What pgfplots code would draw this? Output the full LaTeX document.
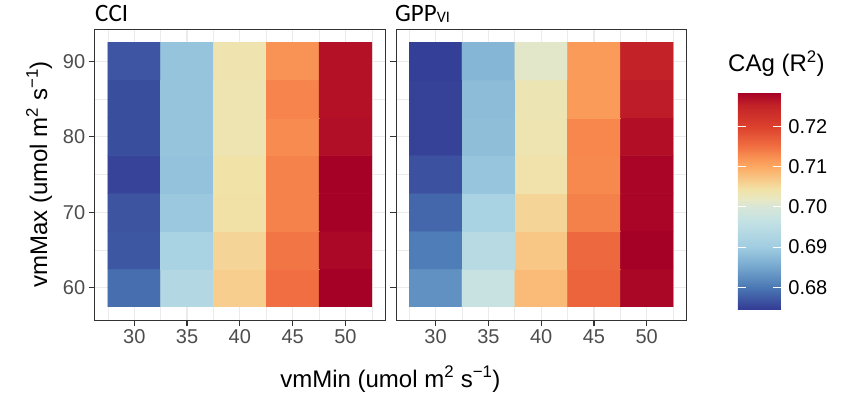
\documentclass[border=0pt]{standalone}
\usepackage{fontspec}
\setmainfont{Liberation Sans}
\newfontfamily\carlito{Carlito}
\usepackage{pgfplots}
\usepackage{pgfplotstable}
\pgfplotsset{compat=1.18}
\definecolor{grey92}{RGB}{235,235,235}
\definecolor{grey20}{RGB}{51,51,51}
\definecolor{grey30}{RGB}{77,77,77}
% colour scale; positions = (value-0.6743)*10000 pt
\pgfplotsset{colormap={refbar}{
rgb255(0pt)=(50,58,148)
rgb255(57pt)=(75,120,180)
rgb255(105pt)=(115,165,205)
rgb255(157pt)=(160,205,225)
rgb255(220pt)=(195,225,228)
rgb255(257pt)=(215,230,215)
rgb255(277pt)=(232,232,195)
rgb255(302pt)=(242,225,165)
rgb255(327pt)=(248,200,135)
rgb255(357pt)=(252,170,100)
rgb255(385pt)=(248,140,80)
rgb255(409pt)=(240,110,65)
rgb255(457pt)=(220,65,45)
rgb255(510pt)=(195,35,40)
rgb255(543pt)=(165,0,38)}}
\pgfplotstableread{
x y v
30 60 0.6792
35 60 0.6935
40 60 0.7064
45 60 0.7152
50 60 0.7286
30 65 0.6770
35 65 0.6916
40 65 0.7057
45 65 0.7146
50 65 0.7279
30 70 0.6767
35 70 0.6894
40 70 0.7044
45 70 0.7136
50 70 0.7286
30 75 0.6751
35 75 0.6886
40 75 0.7043
45 75 0.7136
50 75 0.7286
30 80 0.6761
35 80 0.6888
40 80 0.7035
45 80 0.7128
50 80 0.7273
30 85 0.6761
35 85 0.6888
40 85 0.7035
45 85 0.7134
50 85 0.7270
30 90 0.6768
35 90 0.6888
40 90 0.7037
45 90 0.7121
50 90 0.7270
}\cci
\pgfplotstableread{
x y v
30 60 0.6827
35 60 0.6972
40 60 0.7083
45 60 0.7163
50 60 0.7280
30 65 0.6805
35 65 0.6944
40 65 0.7072
45 65 0.7158
50 65 0.7286
30 70 0.6784
35 70 0.6916
40 70 0.7057
45 70 0.7137
50 70 0.7281
30 75 0.6765
35 75 0.6890
40 75 0.7041
45 75 0.7130
50 75 0.7281
30 80 0.6750
35 80 0.6880
40 80 0.7034
45 80 0.7132
50 80 0.7272
30 85 0.6750
35 85 0.6878
40 85 0.7033
45 85 0.7114
50 85 0.7260
30 90 0.6748
35 90 0.6870
40 90 0.7013
45 90 0.7114
50 90 0.7253
}\gpp
\pgfplotsset{
  panel/.style={
    scale only axis, width=290.3pt, height=291pt,
    xmin=26.25, xmax=53.75, ymin=55.75, ymax=94.25,
    enlargelimits=false,
    xtick={30,35,40,45,50}, ytick={60,70,80,90},
    minor xtick={27.5,32.5,37.5,42.5,47.5,52.5}, minor ytick={65,75,85},
    grid=both,
    major grid style={grey92, line width=1.2pt},
    minor grid style={grey92, line width=0.6pt},
    minor tick length=0pt,
    major tick length=6pt,
    tick align=outside, tick pos=left,
    tick style={grey20, line width=1.2pt},
    axis line style={grey20, line width=0.9pt},
    ticklabel style={font=\fontsize{20}{24}\selectfont, text=grey30},
    /pgf/number format/assume math mode=true,
    colormap name=refbar,
    point meta min=0.6743, point meta max=0.7286,
  }
}
\begin{document}
\begin{tikzpicture}
\useasboundingbox (0,0) rectangle (842pt,396pt);
\begin{axis}[panel, at={(94.7pt,76pt)}, anchor=south west]
\addplot[matrix plot*, mesh/cols=5, point meta=explicit] table[x=x, y=y, meta=v] {\cci};
\end{axis}
\begin{axis}[panel, at={(396pt,76pt)}, anchor=south west, yticklabels={},
  colorbar,
  colorbar/width=43pt,
  colorbar style={
    at={(parent axis.south east)}, anchor=south west,
    xshift=43pt, yshift=10pt,
    scale only axis, height=217.7pt,
    ytick={0.68,0.69,0.70,0.71,0.72},
    yticklabel pos=right, ytick pos=both,
    yticklabel style={font=\fontsize{20}{24}\selectfont, text=black, xshift=4pt, /pgf/number format/.cd, fixed, fixed zerofill, precision=2, assume math mode=true},
    major tick length=8pt, tick align=inside,
    tick style={white, line width=1pt},
    axis line style={draw=none},
    axis on top,
    grid=none,
  }]
\addplot[matrix plot*, mesh/cols=5, point meta=explicit] table[x=x, y=y, meta=v] {\gpp};
\end{axis}
\node[anchor=base west, inner sep=0] at (95pt,374pt) {\carlito\fontsize{25}{29}\selectfont CCI};
\node[anchor=base west, inner sep=0] at (395pt,374pt) {\carlito\fontsize{25}{29}\selectfont GPP\raisebox{-1pt}{\fontsize{16}{19}\selectfont VI}};
\node[anchor=base west, inner sep=0] at (728pt,324pt) {\fontsize{24}{28}\selectfont CAg (R\textsuperscript{2})};
\node[anchor=base, inner sep=0] at (390.4pt,9pt) {\fontsize{24}{28}\selectfont vmMin (umol m\textsuperscript{2} s\textsuperscript{−1})};
\node[anchor=base, inner sep=0, rotate=90] at (47pt,221.5pt) {\fontsize{24}{28}\selectfont vmMax (umol m\textsuperscript{2} s\textsuperscript{−1})};
\end{tikzpicture}
\end{document}
